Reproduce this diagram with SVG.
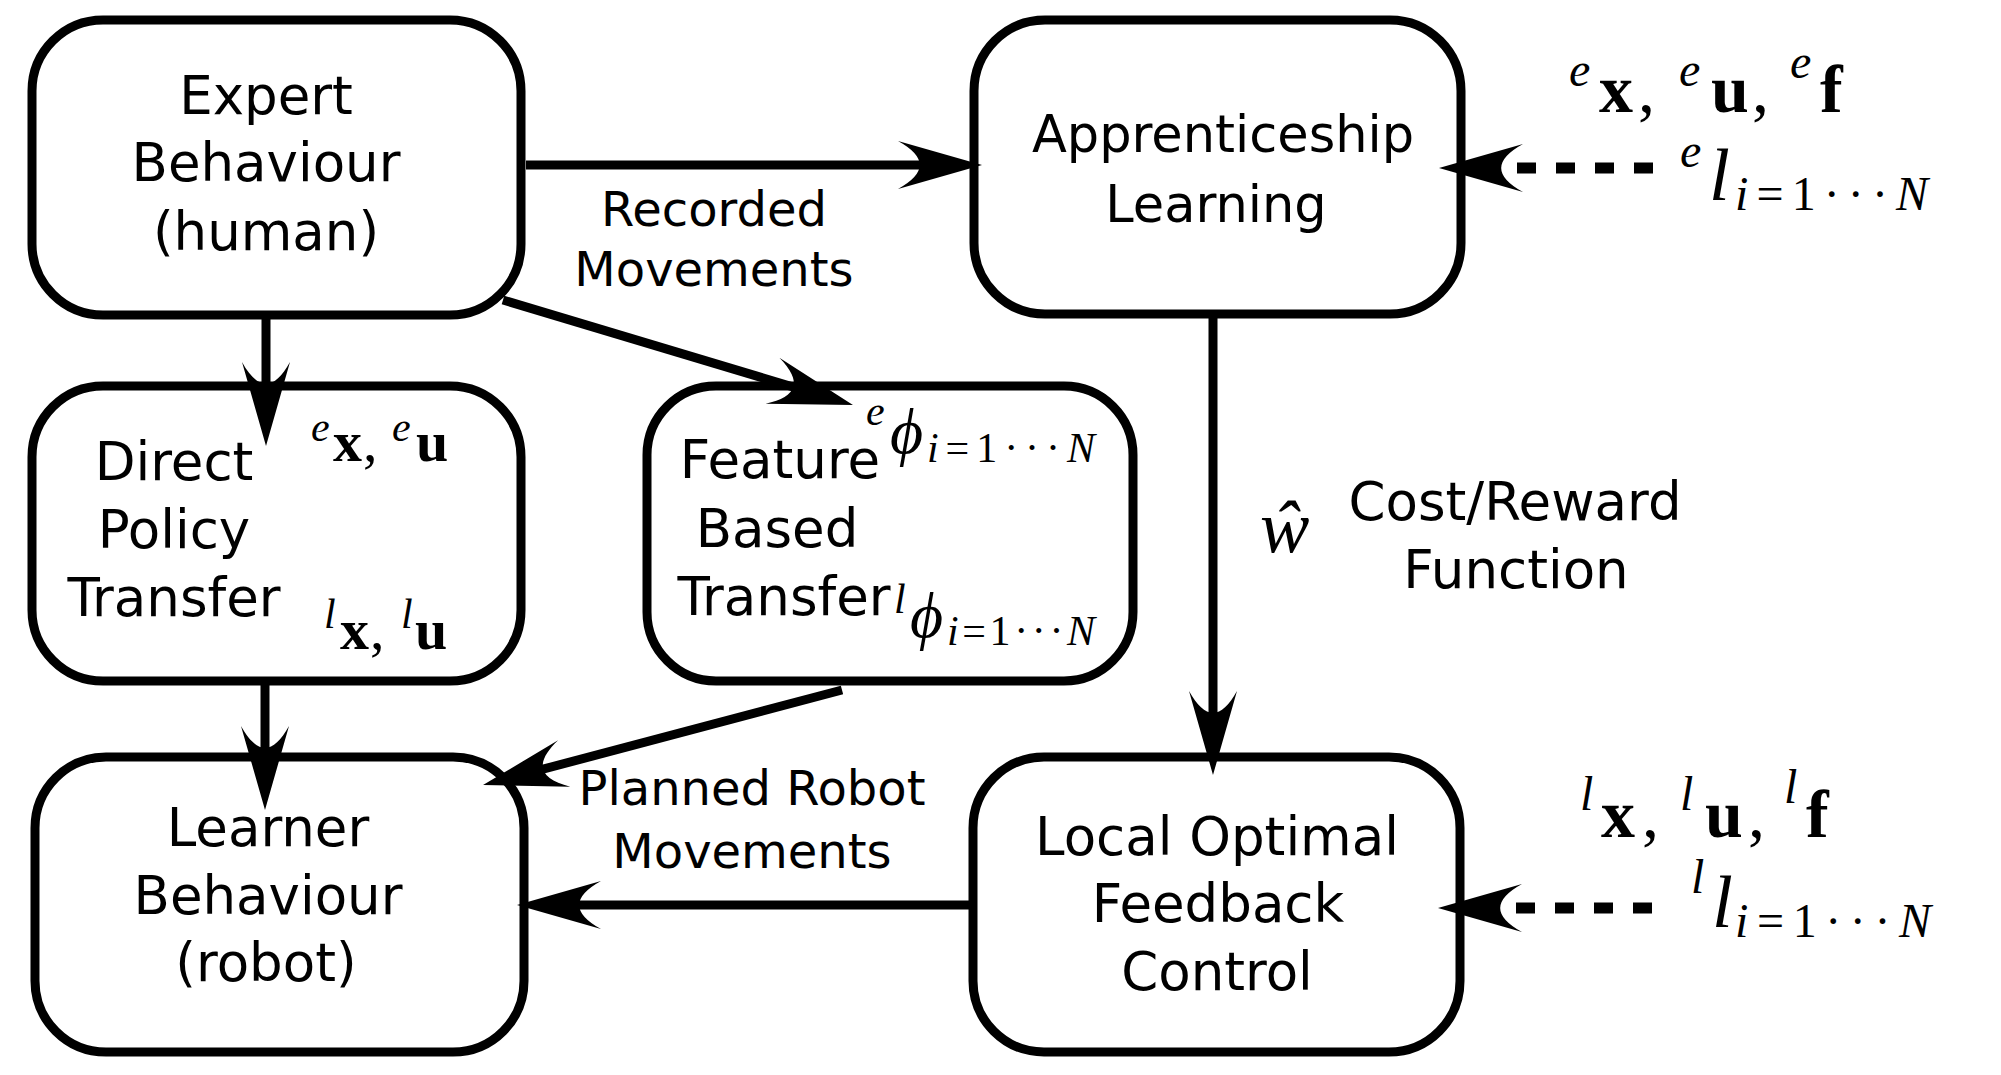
<svg xmlns="http://www.w3.org/2000/svg" width="2001" height="1075" viewBox="0 0 2001 1075">
<style>
.box{fill:#fff;stroke:#000;stroke-width:9}
.lbl{font-family:"DejaVu Sans",sans-serif;fill:#000;text-anchor:middle}
.t53{font-size:53px}
.t51{font-size:51px}
.t48{font-size:48px}
.m{font-family:"Liberation Serif","DejaVu Serif",serif;fill:#000}
.mi{font-style:italic}
.mb{font-weight:bold}
.c{fill:none;stroke:#000;stroke-width:9;marker-end:url(#ah)}
.d{fill:none;stroke:#000;stroke-width:11;stroke-dasharray:19 20;marker-end:url(#ah)}
</style>
<defs>
<marker id="ah" markerUnits="userSpaceOnUse" orient="auto" overflow="visible" markerWidth="1" markerHeight="1" refX="0" refY="0">
<path d="M58,0 L-26,-24 C3,-8 3,8 -26,24 Z" fill="#000"/>
</marker>
</defs>
<rect width="2001" height="1075" fill="#fff"/>

<g id="expert">
<rect class="box" x="32" y="20" width="489" height="295" rx="71" ry="71"/>
<text class="lbl t53"><tspan x="266" y="114">Expert</tspan><tspan x="266" y="181">Behaviour</tspan><tspan x="266" y="250">(human)</tspan></text>
</g>

<g id="apprenticeship">
<rect class="box" x="974" y="20" width="487" height="294" rx="71" ry="71"/>
<text class="lbl t51"><tspan x="1223" y="152">Apprenticeship</tspan><tspan x="1216" y="222">Learning</tspan></text>
</g>

<g id="direct">
<rect class="box" x="32" y="386" width="489" height="295" rx="71" ry="71"/>
<text class="lbl t53"><tspan x="174" y="480">Direct</tspan><tspan x="174" y="548">Policy</tspan><tspan x="174" y="616">Transfer</tspan></text>
<text class="m" font-size="58"><tspan class="mi" x="311" y="441" font-size="42">e</tspan><tspan class="mb" x="333" y="461">x</tspan><tspan x="363" y="461">,</tspan><tspan class="mi" x="392" y="441" font-size="42">e</tspan><tspan class="mb" x="416" y="461">u</tspan></text>
<text class="m" font-size="58"><tspan class="mi" x="324" y="628" font-size="42">l</tspan><tspan class="mb" x="340" y="649">x</tspan><tspan x="370" y="649">,</tspan><tspan class="mi" x="401" y="628" font-size="42">l</tspan><tspan class="mb" x="415" y="649">u</tspan></text>
</g>

<g id="feature">
<rect class="box" x="647" y="386" width="486" height="295" rx="69" ry="69"/>
<text class="lbl t53"><tspan x="780" y="478">Feature</tspan><tspan x="777" y="547">Based</tspan><tspan x="784" y="615">Transfer</tspan></text>
<text class="m mi" x="866" y="425" font-size="42">e</text>
<text class="m mi" x="890" y="453" font-size="64">ϕ</text>
<text class="m" x="927" y="462" font-size="42" textLength="168" lengthAdjust="spacing"><tspan class="mi">i</tspan>=1···<tspan class="mi">N</tspan></text>
<text class="m mi" x="894" y="613" font-size="42">l</text>
<text class="m mi" x="910" y="637" font-size="64">ϕ</text>
<text class="m" x="947" y="645" font-size="42" textLength="148" lengthAdjust="spacing"><tspan class="mi">i</tspan>=1···<tspan class="mi">N</tspan></text>
</g>

<g id="learner">
<rect class="box" x="35" y="757" width="489" height="295" rx="71" ry="71"/>
<text class="lbl t53"><tspan x="268" y="846">Learner</tspan><tspan x="268" y="914">Behaviour</tspan><tspan x="266" y="981">(robot)</tspan></text>
</g>

<g id="lofc">
<rect class="box" x="973" y="757" width="487" height="295" rx="71" ry="71"/>
<text class="lbl t53"><tspan x="1217" y="855">Local Optimal</tspan><tspan x="1218" y="922">Feedback</tspan><tspan x="1217" y="990">Control</tspan></text>
</g>

<g id="label-recorded">
<text class="lbl t48"><tspan x="714" y="226">Recorded</tspan><tspan x="714" y="286">Movements</tspan></text>
</g>

<g id="label-planned">
<text class="lbl t48"><tspan x="752" y="805">Planned Robot</tspan><tspan x="752" y="868">Movements</tspan></text>
</g>

<g id="label-cost">
<text class="m mi" x="1260" y="552" font-size="74">ŵ</text>
<text class="lbl t53"><tspan x="1515" y="520">Cost/Reward</tspan><tspan x="1516" y="588">Function</tspan></text>
</g>

<g id="label-expert-data">
<text class="m" font-size="68"><tspan class="mi" x="1569" y="86" font-size="48">e</tspan><tspan class="mb" x="1599" y="112">x</tspan><tspan x="1638" y="112">,</tspan><tspan class="mi" x="1679" y="86" font-size="48">e</tspan><tspan class="mb" x="1711" y="112">u</tspan><tspan x="1752" y="112">,</tspan><tspan class="mi" x="1790" y="78" font-size="48">e</tspan><tspan class="mb" x="1820" y="112">f</tspan></text>
<text class="m mi" x="1680" y="167" font-size="48">e</text>
<text class="m mi" x="1709" y="200" font-size="75">l</text>
<text class="m" x="1735" y="210" font-size="48" textLength="193" lengthAdjust="spacing"><tspan class="mi">i</tspan>=1···<tspan class="mi">N</tspan></text>
</g>

<g id="label-learner-data">
<text class="m" font-size="68"><tspan class="mi" x="1580" y="810" font-size="48">l</tspan><tspan class="mb" x="1601" y="837">x</tspan><tspan x="1642" y="837">,</tspan><tspan class="mi" x="1680" y="810" font-size="48">l</tspan><tspan class="mb" x="1705" y="837">u</tspan><tspan x="1748" y="837">,</tspan><tspan class="mi" x="1784" y="803" font-size="48">l</tspan><tspan class="mb" x="1806" y="837">f</tspan></text>
<text class="m mi" x="1691" y="893" font-size="48">l</text>
<text class="m mi" x="1712" y="927" font-size="75">l</text>
<text class="m" x="1735" y="937" font-size="48" textLength="196" lengthAdjust="spacing"><tspan class="mi">i</tspan>=1···<tspan class="mi">N</tspan></text>
</g>

<g id="connectors">
<path class="c" d="M526,165 L924,165" stroke-width="10"/>
<path class="c" d="M266,319 L266,388" stroke-width="8"/>
<path class="c" d="M503,300 L797.4,388.3"/>
<path class="c" d="M265,683 L265,752" stroke-width="8"/>
<path class="c" d="M842,690 L539.1,770.2"/>
<path class="c" d="M969,905 L575,905"/>
<path class="c" d="M1213,318 L1213,717" stroke-width="8"/>
<path class="d" d="M1653,168 L1497,168"/>
<path class="d" d="M1652,908 L1496,908"/>
</g>
</svg>
